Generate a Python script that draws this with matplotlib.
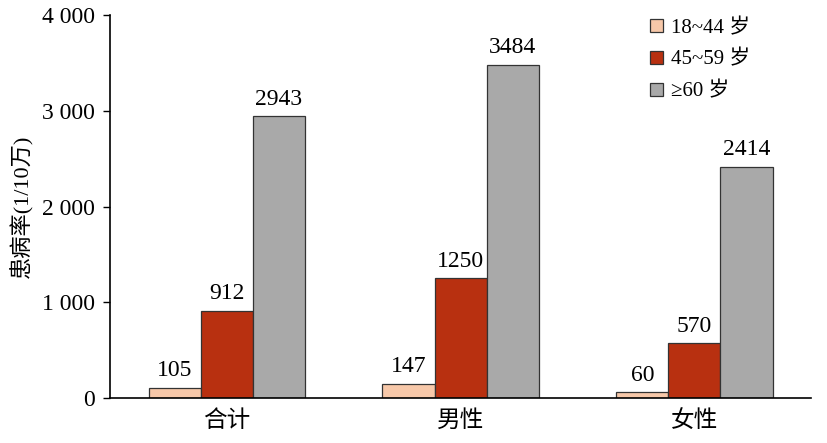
import numpy as np
import matplotlib
matplotlib.use("Agg")
import matplotlib.pyplot as plt
from matplotlib.ticker import FuncFormatter

# prevalence per 100k by group and age band
groups = ["合计", "男性", "女性"]
age_labels = ["18~44 岁", "45~59 岁", "≥60 岁"]
age_18_44 = [105, 147, 60]
age_45_59 = [912, 1250, 570]
age_60_plus = [2943, 3484, 2414]
colors = ["#F7C8A9", "#B83010", "#A9A9A9"]

plt.rcParams['font.family'] = ['Liberation Serif', 'Noto Sans CJK SC']

fig = plt.figure(figsize=(8.27, 4.43), dpi=100)
ax = fig.add_axes([0.133, 0.1016, 0.848, 0.864])

x = np.arange(len(groups))
width = 0.223
series = [age_18_44, age_45_59, age_60_plus]
for i, (vals, lab, col) in enumerate(zip(series, age_labels, colors)):
    pos = x + (i - 1) * width
    bars = ax.bar(pos, vals, width, color=col, edgecolor="#333333",
                  linewidth=0.9, label=lab)
    for b, v in zip(bars, vals):
        ax.text(b.get_x() + b.get_width() / 2, v + 70, str(v),
                ha="center", va="bottom", fontsize=17)

ax.set_xlim(-0.5, 2.5)
ax.set_ylim(0, 4000)
ax.set_yticks([0, 1000, 2000, 3000, 4000])
ax.yaxis.set_major_formatter(FuncFormatter(lambda v, p: f"{int(v):,}".replace(",", " ")))
ax.set_xticks(x)
ax.set_xticklabels(groups, fontsize=17, family=['Noto Sans CJK SC'], fontweight='light')
ax.tick_params(axis="x", length=0, pad=8)
ax.tick_params(axis="y", labelsize=17, length=5, width=1, pad=6)
ax.set_ylabel("患病率(1/10万)", fontsize=16, fontweight='light', labelpad=6)

for s in ["top", "right"]:
    ax.spines[s].set_visible(False)
for s in ["left", "bottom"]:
    ax.spines[s].set_linewidth(1.2)

leg = ax.legend(loc="upper right", bbox_to_anchor=(0.94, 1.04), frameon=False,
                fontsize=15, handlelength=0.6, handleheight=0.6,
                handletextpad=0.4, labelspacing=0.6)

fig.savefig("out.png", dpi=100)
